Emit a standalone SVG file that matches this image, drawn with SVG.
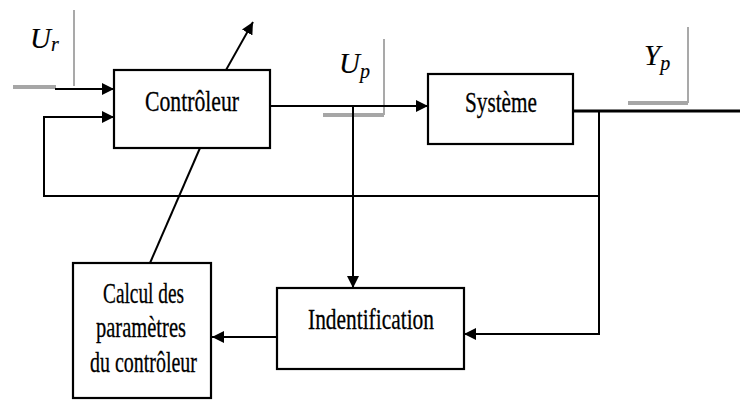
<svg xmlns="http://www.w3.org/2000/svg" width="740" height="401" viewBox="0 0 740 401">
<defs>
<style>
.box{fill:#fff;stroke:#000;stroke-width:2.2}
.lbl{font-family:"Liberation Serif","Times New Roman",serif;font-size:30px;fill:#000;stroke:#000;stroke-width:0.3}
.math{font-family:"Liberation Serif","Times New Roman",serif;font-style:italic;font-size:29px;fill:#000;stroke:#000;stroke-width:0.15}
.sub{font-size:20px}
.c{fill:none;stroke:#000;stroke-width:2}
.thick{stroke-width:3}
.gv{fill:none;stroke:#8c8c8c;stroke-width:1.5}
.gh{fill:none;stroke:#a6a6a6;stroke-width:4}
</style>
<marker id="ah" viewBox="0 0 10 10" refX="10" refY="5" markerWidth="6" markerHeight="6" orient="auto" markerUnits="strokeWidth">
<path d="M0,0 L10,5 L0,10 z" fill="#000"/>
</marker>
</defs>
<rect width="740" height="401" fill="#fff"/>

<g id="signal-labels">
<line class="gv" x1="74" y1="10" x2="74" y2="86"/>
<line class="gh" x1="13" y1="87" x2="56" y2="87"/>
<text class="math" x="30" y="48">U<tspan class="sub" dy="3">r</tspan></text>
<line class="gv" x1="384" y1="39" x2="384" y2="115"/>
<line class="gh" x1="323" y1="115" x2="384" y2="115"/>
<text class="math" x="339" y="73">U<tspan class="sub" dy="5">p</tspan></text>
<line class="gv" x1="688" y1="27" x2="688" y2="103"/>
<line class="gh" x1="628" y1="103" x2="688" y2="103"/>
<text class="math" x="644" y="65">Y<tspan class="sub" dy="5">p</tspan></text>
</g>

<g id="connectors">
<line class="c" x1="55" y1="89" x2="114" y2="89" marker-end="url(#ah)"/>
<polyline class="c" points="599,196 44,196 44,117 114,117" marker-end="url(#ah)"/>
<line class="c" x1="270" y1="106" x2="428" y2="106" marker-end="url(#ah)"/>
<line class="c" x1="353" y1="106" x2="353" y2="288" marker-end="url(#ah)"/>
<line class="c thick" x1="573" y1="111" x2="740" y2="111"/>
<polyline class="c" points="599,111 599,334 464,334" marker-end="url(#ah)"/>
<line class="c" x1="277" y1="337" x2="212" y2="337" marker-end="url(#ah)"/>
<line class="c" x1="200" y1="148" x2="150" y2="263"/>
<line class="c" x1="226" y1="70" x2="253" y2="22" marker-end="url(#ah)"/>
</g>

<g id="controleur">
<rect class="box" x="114" y="70" width="156" height="78"/>
<text class="lbl" x="145" y="111" textLength="94" lengthAdjust="spacingAndGlyphs">Contrôleur</text>
</g>

<g id="systeme">
<rect class="box" x="428" y="74" width="145" height="70"/>
<text class="lbl" x="465" y="112" textLength="72" lengthAdjust="spacingAndGlyphs">Système</text>
</g>

<g id="identification">
<rect class="box" x="277" y="288" width="187" height="81"/>
<text class="lbl" x="308" y="329" textLength="126" lengthAdjust="spacingAndGlyphs">Indentification</text>
</g>

<g id="calcul">
<rect class="box" x="73" y="263" width="138" height="135"/>
<text class="lbl" x="103" y="303" textLength="81" lengthAdjust="spacingAndGlyphs">Calcul des</text>
<text class="lbl" x="96" y="337" textLength="90" lengthAdjust="spacingAndGlyphs">paramètres</text>
<text class="lbl" x="90" y="372" textLength="107" lengthAdjust="spacingAndGlyphs">du contrôleur</text>
</g>
</svg>
